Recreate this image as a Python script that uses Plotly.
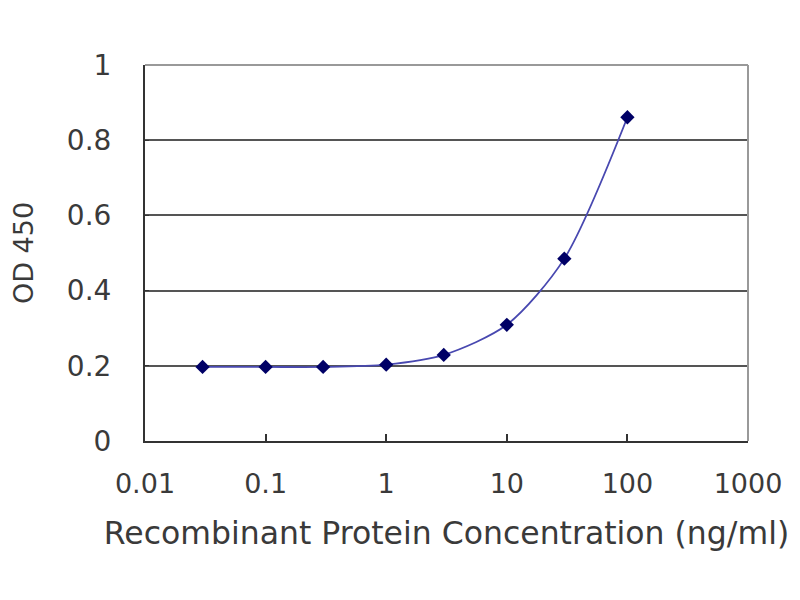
import plotly.graph_objects as go

conc = [0.03, 0.1, 0.3, 1, 3, 10, 30, 100]
od450 = [0.197, 0.197, 0.197, 0.203, 0.229, 0.309, 0.485, 0.861]
x_tickvals = [0.01, 0.1, 1, 10, 100, 1000]
x_ticktext = ["0.01", "0.1", "1", "10", "100", "1000"]
y_tickvals = [0, 0.2, 0.4, 0.6, 0.8, 1]
y_ticktext = ["0", "0.2", "0.4", "0.6", "0.8", "1"]

font = "DejaVu Sans, Liberation Sans, Arial, sans-serif"
txt = "#3a3a3a"

fig = go.Figure()
fig.add_trace(go.Scatter(
    x=conc, y=od450, mode="lines+markers",
    line=dict(color="#4848b0", width=1.8, shape="spline", smoothing=0.8),
    marker=dict(symbol="diamond", size=11, color="#000066"),
    showlegend=False,
))

fig.update_layout(
    width=800, height=600,
    margin=dict(l=137, r=60, t=57, b=167),
    paper_bgcolor="white", plot_bgcolor="white",
    font=dict(family=font, color=txt),
    xaxis=dict(
        type="log", range=[-2, 3], automargin=False,
        tickvals=x_tickvals, ticktext=x_ticktext,
        ticks="inside", ticklen=7, tickwidth=2, tickcolor="#333",
        showgrid=False, zeroline=False,
        showline=True, linecolor="#333", linewidth=2,
        tickfont=dict(size=27, color=txt),
        ticklabelstandoff=18,
        title=dict(text="Recombinant Protein Concentration (ng/ml)",
                   font=dict(size=31.5, color=txt), standoff=24),
    ),
    yaxis=dict(
        range=[0, 1], automargin=False,
        tickvals=y_tickvals, ticktext=y_ticktext,
        ticks="inside", ticklen=4, tickwidth=1, tickcolor="#333",
        showgrid=True, gridcolor="#555555", gridwidth=2,
        zeroline=False,
        showline=True, linecolor="#333", linewidth=2,
        tickfont=dict(size=28, color=txt),
        ticklabelstandoff=26,
        title=dict(text="OD 450", font=dict(size=27, color=txt), standoff=26),
    ),
)

# light gray top and right border of the plot frame
fig.add_shape(type="line", xref="paper", yref="paper", x0=0, x1=1, y0=1, y1=1,
              line=dict(color="#999999", width=2))
fig.add_shape(type="line", xref="paper", yref="paper", x0=1, x1=1, y0=0, y1=1,
              line=dict(color="#999999", width=2))

fig.write_html("out.html")
